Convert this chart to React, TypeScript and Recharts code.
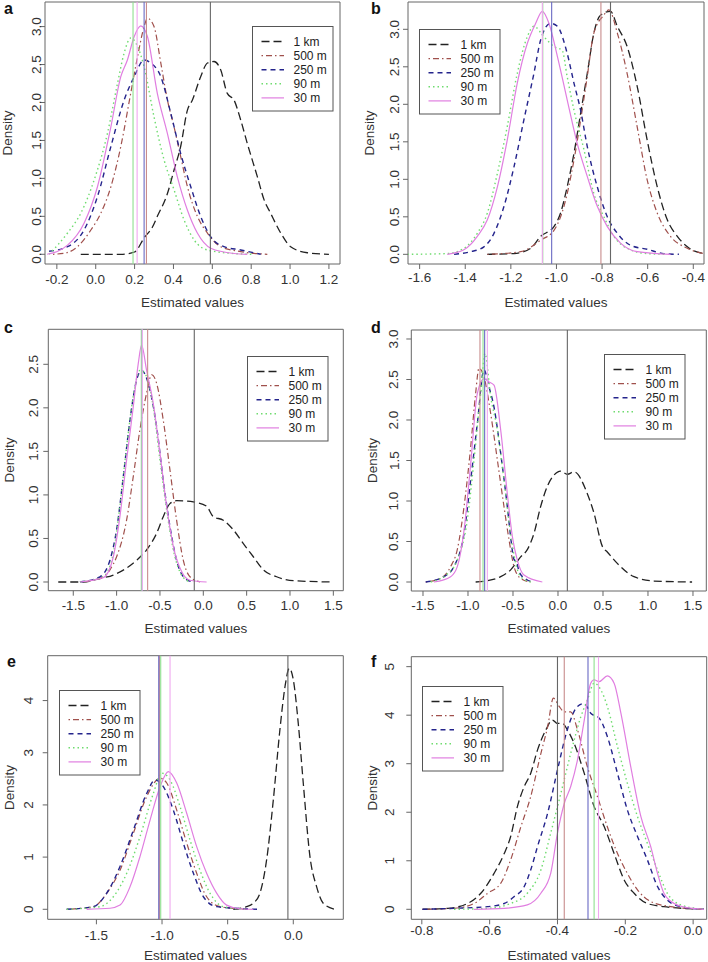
import React from 'react';
import { LineChart, Line, XAxis, YAxis, ReferenceLine, ReferenceArea, Legend } from 'recharts';

type Pt = [number, number];

const SERIES_NAMES = ['1 km', '500 m', '250 m', '90 m', '30 m'];
const SERIES_COLORS = ['#222222', '#a0504c', '#24248c', '#6fdc6f', '#e07ee0'];
const VLINE_COLORS = ['#666666', '#c88c8c', '#6a6ac4', '#8fe08f', '#f0a8f0'];
const SERIES_DASH: (string | undefined)[] = ['8 4', '1.5 3 6 3', '5 4', '1.5 3', undefined];
const SERIES_WIDTH = [1.3, 1.2, 1.4, 1.4, 1.2];
const FONT = 'Liberation Sans, Arial, Helvetica, sans-serif';
const AXIS_FONT = 13.5;

// ---------- Panel a ----------
const A_1KM: Pt[] = [[-0.077,0],[0.13,0],[0.2,0.03],[0.25,0.22],[0.292,0.36],[0.317,0.5],[0.369,0.8],[0.403,1.11],[0.437,1.42],[0.472,1.9],[0.497,2.03],[0.54,2.34],[0.575,2.52],[0.609,2.54],[0.643,2.43],[0.677,2.12],[0.712,2.03],[0.746,1.77],[0.78,1.46],[0.832,1.02],[0.866,0.72],[0.9,0.54],[0.952,0.28],[1.003,0.1],[1.089,0.02],[1.2,0]];
const A_500: Pt[] = [[-0.22,0],[-0.15,0.02],[-0.094,0.1],[-0.025,0.32],[0.026,0.54],[0.078,0.89],[0.129,1.42],[0.18,2.12],[0.215,2.6],[0.249,3.0],[0.266,3.11],[0.3,3.0],[0.335,2.52],[0.369,2.03],[0.403,1.68],[0.437,1.29],[0.472,0.89],[0.523,0.5],[0.575,0.28],[0.643,0.1],[0.746,0.035],[0.883,0]];
const A_250: Pt[] = [[-0.24,0.04],[-0.145,0.1],[-0.06,0.32],[0.009,0.76],[0.078,1.42],[0.146,2.03],[0.198,2.34],[0.249,2.56],[0.283,2.52],[0.335,2.34],[0.386,1.86],[0.437,1.33],[0.489,0.89],[0.54,0.5],[0.592,0.23],[0.66,0.1],[0.746,0.057],[0.849,0]];
const A_90: Pt[] = [[-0.24,0],[-0.145,0.28],[-0.077,0.54],[-0.008,0.98],[0.06,1.59],[0.112,2.25],[0.146,2.65],[0.18,2.85],[0.215,2.74],[0.249,2.47],[0.3,1.81],[0.352,1.24],[0.403,0.85],[0.455,0.45],[0.506,0.19],[0.575,0.057],[0.712,0.01],[0.815,0]];
const A_30: Pt[] = [[-0.25,0],[-0.145,0.12],[-0.06,0.41],[0.009,0.89],[0.078,1.68],[0.129,2.34],[0.163,2.56],[0.198,2.87],[0.232,3.01],[0.266,2.87],[0.317,2.12],[0.369,1.59],[0.42,1.02],[0.472,0.58],[0.523,0.28],[0.592,0.08],[0.712,0.01],[0.78,0]];
const A_VLINES = [0.59, 0.261, 0.249, 0.192, 0.213];
const A_XTICKS = [-0.2, 0, 0.2, 0.4, 0.6, 0.8, 1.0, 1.2];
const A_YTICKS = [0, 0.5, 1, 1.5, 2, 2.5, 3];

// ---------- Panel b ----------
const B_1KM: Pt[] = [[-1.303,0],[-1.186,0.01],[-1.113,0.08],[-1.069,0.24],[-1.011,0.37],[-0.982,0.55],[-0.953,0.9],[-0.923,1.35],[-0.894,1.88],[-0.865,2.41],[-0.836,2.95],[-0.806,3.19],[-0.763,3.24],[-0.733,3.04],[-0.69,2.77],[-0.646,2.24],[-0.602,1.52],[-0.558,0.9],[-0.514,0.46],[-0.47,0.24],[-0.426,0.1],[-0.353,0.01]];
const B_500: Pt[] = [[-1.303,0],[-1.157,0.035],[-1.069,0.19],[-1.011,0.32],[-0.967,0.64],[-0.923,1.26],[-0.894,1.79],[-0.865,2.37],[-0.836,2.95],[-0.792,3.19],[-0.77,3.26],[-0.733,2.95],[-0.69,2.41],[-0.646,1.7],[-0.602,0.99],[-0.558,0.55],[-0.5,0.24],[-0.426,0.08],[-0.353,0.01]];
const B_250: Pt[] = [[-1.449,0],[-1.376,0.035],[-1.318,0.1],[-1.274,0.28],[-1.23,0.64],[-1.186,1.17],[-1.143,1.79],[-1.099,2.41],[-1.069,2.86],[-1.026,3.08],[-0.996,3.04],[-0.953,2.68],[-0.923,2.28],[-0.894,1.92],[-0.865,1.44],[-0.821,0.9],[-0.777,0.5],[-0.733,0.28],[-0.675,0.12],[-0.602,0.067],[-0.529,0.01],[-0.463,0]];
const B_90: Pt[] = [[-1.654,0],[-1.479,0.01],[-1.406,0.08],[-1.347,0.28],[-1.303,0.55],[-1.259,1.08],[-1.216,1.7],[-1.172,2.41],[-1.128,2.9],[-1.099,3.04],[-1.055,2.9],[-1.011,2.77],[-0.975,2.72],[-0.953,2.37],[-0.923,1.92],[-0.879,1.39],[-0.836,0.81],[-0.792,0.5],[-0.748,0.24],[-0.69,0.08],[-0.602,0.01],[-0.514,0]];
const B_30: Pt[] = [[-1.479,0],[-1.406,0.06],[-1.347,0.24],[-1.303,0.46],[-1.259,0.9],[-1.216,1.52],[-1.172,2.28],[-1.128,2.81],[-1.091,3.08],[-1.062,3.24],[-1.033,3.08],[-0.996,2.64],[-0.953,2.06],[-0.909,1.48],[-0.865,1.04],[-0.821,0.64],[-0.777,0.37],[-0.719,0.15],[-0.646,0.035],[-0.5,0]];
const B_VLINES = [-0.763, -0.805, -1.021, -1.06, -1.062];
const B_XTICKS = [-1.6, -1.4, -1.2, -1.0, -0.8, -0.6, -0.4];
const B_YTICKS = [0, 0.5, 1, 1.5, 2, 2.5, 3];

// ---------- Panel c ----------
const C_1KM: Pt[] = [[-1.673,0],[-1.385,0],[-1.192,0.04],[-1.038,0.08],[-0.885,0.16],[-0.769,0.25],[-0.654,0.37],[-0.538,0.56],[-0.462,0.75],[-0.385,0.9],[-0.308,0.934],[-0.2,0.93],[-0.115,0.92],[0.038,0.87],[0.115,0.75],[0.231,0.71],[0.346,0.6],[0.462,0.44],[0.577,0.29],[0.692,0.14],[0.846,0.06],[1.038,0.015],[1.5,0]];
const C_500: Pt[] = [[-1.423,0],[-1.192,0.04],[-1.077,0.14],[-1.0,0.29],[-0.885,0.71],[-0.808,1.21],[-0.731,1.75],[-0.654,2.17],[-0.596,2.38],[-0.538,2.28],[-0.462,1.86],[-0.385,1.29],[-0.308,0.71],[-0.231,0.25],[-0.154,0.06],[-0.038,0]];
const C_250: Pt[] = [[-1.423,0],[-1.192,0.06],[-1.077,0.25],[-1.0,0.6],[-0.923,1.21],[-0.846,1.86],[-0.769,2.32],[-0.712,2.43],[-0.635,2.28],[-0.538,1.78],[-0.462,1.17],[-0.385,0.64],[-0.308,0.25],[-0.212,0.04],[-0.115,0]];
const C_90: Pt[] = [[-1.423,0],[-1.154,0.06],[-1.038,0.33],[-0.962,0.87],[-0.885,1.55],[-0.808,2.13],[-0.731,2.43],[-0.654,2.36],[-0.577,2.01],[-0.5,1.4],[-0.423,0.83],[-0.346,0.37],[-0.25,0.08],[-0.154,0]];
const C_30: Pt[] = [[-1.423,0],[-1.154,0.05],[-1.038,0.29],[-0.962,0.75],[-0.885,1.4],[-0.808,2.01],[-0.75,2.51],[-0.712,2.72],[-0.654,2.43],[-0.577,2.05],[-0.5,1.48],[-0.423,0.87],[-0.346,0.41],[-0.25,0.12],[-0.154,0.02],[0.038,0]];
const C_VLINES = [-0.104, -0.642, -0.71, -0.715, -0.704];
const C_XTICKS = [-1.5, -1.0, -0.5, 0, 0.5, 1.0, 1.5];
const C_YTICKS = [0, 0.5, 1, 1.5, 2, 2.5];

// ---------- Panel d ----------
const D_1KM: Pt[] = [[-0.915,0],[-0.785,0.016],[-0.637,0.066],[-0.526,0.15],[-0.415,0.31],[-0.341,0.4],[-0.267,0.6],[-0.193,0.93],[-0.119,1.18],[-0.044,1.32],[0.03,1.37],[0.104,1.33],[0.178,1.36],[0.326,1.09],[0.4,0.85],[0.493,0.44],[0.548,0.37],[0.659,0.23],[0.844,0.066],[1.067,0.012],[1.49,0]];
const D_500: Pt[] = [[-1.47,0],[-1.304,0.045],[-1.193,0.19],[-1.119,0.4],[-1.044,0.93],[-0.97,1.67],[-0.915,2.33],[-0.878,2.64],[-0.822,2.53],[-0.748,2.08],[-0.674,1.51],[-0.6,0.93],[-0.544,0.52],[-0.489,0.19],[-0.415,0.045],[-0.304,0]];
const D_250: Pt[] = [[-1.47,0],[-1.267,0.066],[-1.156,0.19],[-1.044,0.6],[-0.97,1.26],[-0.896,1.96],[-0.822,2.62],[-0.767,2.41],[-0.711,2.16],[-0.637,1.59],[-0.563,0.93],[-0.52,0.5],[-0.489,0.28],[-0.46,0.25],[-0.43,0.12],[-0.341,0.025],[-0.267,0]];
const D_90: Pt[] = [[-1.415,0],[-1.23,0.1],[-1.119,0.27],[-1.007,0.77],[-0.933,1.51],[-0.859,2.33],[-0.811,2.82],[-0.748,2.29],[-0.674,1.88],[-0.6,1.26],[-0.526,0.6],[-0.47,0.23],[-0.415,0.066],[-0.304,0]];
const D_30: Pt[] = [[-1.378,0],[-1.193,0.066],[-1.119,0.19],[-1.044,0.64],[-0.97,1.46],[-0.896,2.33],[-0.822,2.51],[-0.767,2.47],[-0.711,2.43],[-0.637,1.88],[-0.563,1.09],[-0.507,0.56],[-0.452,0.27],[-0.378,0.086],[-0.174,0]];
const D_VLINES = [0.104, -0.867, -0.815, -0.833, -0.785];
const D_XTICKS = [-1.5, -1.0, -0.5, 0, 0.5, 1.0, 1.5];
const D_YTICKS = [0, 0.5, 1, 1.5, 2, 2.5, 3];

// ---------- Panel e ----------
const E_1KM: Pt[] = [[-0.457,0],[-0.355,0.05],[-0.305,0.115],[-0.254,0.31],[-0.203,0.95],[-0.152,2.1],[-0.102,3.44],[-0.063,4.27],[-0.03,4.62],[0,4.4],[0.038,3.56],[0.076,2.42],[0.127,1.01],[0.178,0.43],[0.228,0.115],[0.317,0]];
const E_500: Pt[] = [[-1.726,0],[-1.523,0.05],[-1.421,0.31],[-1.32,0.75],[-1.218,1.46],[-1.117,2.16],[-1.015,2.51],[-0.964,2.42],[-0.888,1.9],[-0.812,1.27],[-0.736,0.69],[-0.66,0.24],[-0.558,0.05],[-0.355,0]];
const E_250: Pt[] = [[-1.726,0],[-1.523,0.05],[-1.421,0.31],[-1.32,0.82],[-1.218,1.52],[-1.117,2.22],[-1.053,2.48],[-0.99,2.35],[-0.914,1.9],[-0.838,1.27],[-0.761,0.69],[-0.685,0.24],[-0.584,0.05],[-0.27,0]];
const E_90: Pt[] = [[-1.726,0],[-1.472,0.05],[-1.371,0.24],[-1.269,0.69],[-1.168,1.39],[-1.066,2.22],[-1.003,2.61],[-0.939,2.48],[-0.863,1.97],[-0.787,1.33],[-0.711,0.75],[-0.635,0.31],[-0.533,0.05],[-0.355,0]];
const E_30: Pt[] = [[-1.574,0],[-1.396,0.02],[-1.32,0.08],[-1.244,0.43],[-1.168,1.01],[-1.091,1.71],[-1.015,2.35],[-0.952,2.64],[-0.888,2.42],[-0.812,1.84],[-0.736,1.2],[-0.66,0.69],[-0.584,0.31],[-0.508,0.08],[-0.406,0.01],[-0.305,0]];
const E_VLINES = [-0.041, -1.02, -1.025, -1.01, -0.939];
const E_XTICKS = [-1.5, -1.0, -0.5, 0];
const E_YTICKS = [0, 1, 2, 3, 4];

// ---------- Panel f ----------
const F_1KM: Pt[] = [[-0.798,0],[-0.724,0.02],[-0.665,0.12],[-0.626,0.33],[-0.587,0.74],[-0.557,1.15],[-0.538,1.5],[-0.518,2.12],[-0.498,2.53],[-0.479,2.8],[-0.459,3.28],[-0.434,3.7],[-0.415,3.9],[-0.4,3.83],[-0.385,3.83],[-0.371,3.7],[-0.351,3.42],[-0.321,2.8],[-0.292,2.12],[-0.262,1.7],[-0.233,1.15],[-0.203,0.6],[-0.174,0.33],[-0.135,0.12],[-0.086,0.055],[-0.017,0.014],[0.032,0]];
const F_500: Pt[] = [[-0.798,0],[-0.705,0.02],[-0.646,0.12],[-0.606,0.33],[-0.567,0.54],[-0.538,1.02],[-0.508,1.7],[-0.479,2.32],[-0.449,3.21],[-0.429,3.76],[-0.412,4.35],[-0.395,4.18],[-0.38,4.07],[-0.361,4.07],[-0.341,3.7],[-0.312,2.94],[-0.282,2.32],[-0.253,1.7],[-0.223,1.15],[-0.194,0.74],[-0.164,0.4],[-0.125,0.16],[-0.066,0.055],[0.032,0]];
const F_250: Pt[] = [[-0.798,0],[-0.705,0.02],[-0.606,0.055],[-0.557,0.12],[-0.528,0.26],[-0.498,0.47],[-0.479,0.81],[-0.459,1.29],[-0.429,1.98],[-0.4,2.87],[-0.371,3.7],[-0.341,4.18],[-0.321,4.24],[-0.302,4.04],[-0.277,3.94],[-0.253,3.56],[-0.223,2.8],[-0.194,2.05],[-0.164,1.5],[-0.135,1.02],[-0.105,0.47],[-0.076,0.19],[-0.036,0.055],[0.032,0]];
const F_90: Pt[] = [[-0.705,0],[-0.606,0.02],[-0.538,0.12],[-0.489,0.33],[-0.449,0.81],[-0.42,1.57],[-0.39,2.39],[-0.361,3.21],[-0.331,3.97],[-0.312,4.31],[-0.292,4.66],[-0.272,4.52],[-0.253,4.18],[-0.223,3.35],[-0.194,2.6],[-0.164,1.91],[-0.135,1.36],[-0.105,0.81],[-0.076,0.33],[-0.036,0.09],[0.032,0]];
const F_30: Pt[] = [[-0.646,0],[-0.557,0.02],[-0.489,0.09],[-0.449,0.33],[-0.42,0.74],[-0.4,1.57],[-0.38,2.18],[-0.361,2.53],[-0.341,3.08],[-0.321,3.9],[-0.302,4.66],[-0.292,4.73],[-0.277,4.69],[-0.253,4.81],[-0.233,4.66],[-0.213,4.04],[-0.184,2.94],[-0.154,1.91],[-0.125,1.29],[-0.105,0.74],[-0.086,0.33],[-0.056,0.12],[-0.017,0.034],[0.032,0]];
const F_VLINES = [-0.4, -0.38, -0.31, -0.292, -0.279];
const F_XTICKS = [-0.8, -0.6, -0.4, -0.2, 0];
const F_YTICKS = [0, 1, 2, 3, 4, 5];

type PanelCfg = {
  letter: string; left: number; top: number; w: number; h: number;
  box: { l: number; r: number; t: number; b: number };
  xDomain: [number, number]; yDomain: [number, number];
  xTicks: number[]; yTicks: number[]; yDigits: number;
  xLabelY: number; yLabelX: number; densityX: number; titleY: number;
  legend: { x: number; y: number }; letterPos: { x: number; y: number };
  series: Pt[][]; vlines: number[];
};

const PANELS: PanelCfg[] = [
  { letter: 'a', left: 0, top: 0, w: 354, h: 320, box: { l: 45, r: 340, t: 2, b: 264 },
    xDomain: [-0.261, 1.257], yDomain: [-0.128, 3.324], xTicks: A_XTICKS, yTicks: A_YTICKS, yDigits: 1,
    xLabelY: 279, yLabelX: 37, densityX: 7, titleY: 302, legend: { x: 252, y: 26 }, letterPos: { x: 4, y: 13.5 },
    series: [A_1KM, A_500, A_250, A_90, A_30], vlines: A_VLINES },
  { letter: 'b', left: 354, top: 0, w: 354, h: 320, box: { l: 54, r: 350, t: 2, b: 264 },
    xDomain: [-1.651, -0.353], yDomain: [-0.129, 3.364], xTicks: B_XTICKS, yTicks: B_YTICKS, yDigits: 1,
    xLabelY: 277, yLabelX: 40.7, densityX: 15.5, titleY: 302, legend: { x: 65, y: 29 }, letterPos: { x: 17, y: 13.5 },
    series: [B_1KM, B_500, B_250, B_90, B_30], vlines: B_VLINES },
  { letter: 'c', left: 0, top: 320, w: 354, h: 320, box: { l: 48.3, r: 343.3, t: 9.3, b: 270.7 },
    xDomain: [-1.788, 1.615], yDomain: [-0.1, 2.902], xTicks: C_XTICKS, yTicks: C_YTICKS, yDigits: 1,
    xLabelY: 285, yLabelX: 34, densityX: 9, titleY: 308, legend: { x: 247, y: 36 }, letterPos: { x: 4, y: 12.5 },
    series: [C_1KM, C_500, C_250, C_90, C_30], vlines: C_VLINES },
  { letter: 'd', left: 354, top: 320, w: 354, h: 320, box: { l: 57.3, r: 352.3, t: 10, b: 271 },
    xDomain: [-1.63, 1.648], yDomain: [-0.111, 3.111], xTicks: D_XTICKS, yTicks: D_YTICKS, yDigits: 1,
    xLabelY: 285, yLabelX: 40, densityX: 18.7, titleY: 308, legend: { x: 250, y: 34 }, letterPos: { x: 17, y: 12.5 },
    series: [D_1KM, D_500, D_250, D_90, D_30], vlines: D_VLINES },
  { letter: 'e', left: 0, top: 640, w: 354, h: 322, box: { l: 47.7, r: 343.3, t: 15.7, b: 279.3 },
    xDomain: [-1.871, 0.381], yDomain: [-0.192, 4.86], xTicks: E_XTICKS, yTicks: E_YTICKS, yDigits: 0,
    xLabelY: 295, yLabelX: 28.3, densityX: 9, titleY: 315, legend: { x: 59, y: 50 }, letterPos: { x: 7, y: 26.7 },
    series: [E_1KM, E_500, E_250, E_90, E_30], vlines: E_VLINES },
  { letter: 'f', left: 354, top: 640, w: 354, h: 322, box: { l: 57.3, r: 352.7, t: 16.7, b: 279.3 },
    xDomain: [-0.831, 0.04], yDomain: [-0.206, 5.205], xTicks: F_XTICKS, yTicks: F_YTICKS, yDigits: 0,
    xLabelY: 290, yLabelX: 35.7, densityX: 18.7, titleY: 315, legend: { x: 67.7, y: 45.7 }, letterPos: { x: 17, y: 26.7 },
    series: [F_1KM, F_500, F_250, F_90, F_30], vlines: F_VLINES },
];

const LegendBox = () => (
  <svg width={82} height={86} style={{ display: 'block' }}>
    <rect x={0.5} y={0.5} width={80.5} height={84.5} fill="#ffffff" stroke="#555555" strokeWidth={1} />
    {SERIES_NAMES.map((n, i) => {
      const y = 15.5 + 14.1 * i;
      return (
        <g key={n}>
          <line x1={9.5} x2={32} y1={y} y2={y} stroke={SERIES_COLORS[i]} strokeWidth={SERIES_WIDTH[i]}
            strokeDasharray={SERIES_DASH[i]} />
          <text x={41.5} y={y} dominantBaseline="central" fontSize={12} fill="#222" fontFamily={FONT}>{n}</text>
        </g>
      );
    })}
  </svg>
);

function Panel({ cfg }: { cfg: PanelCfg }) {
  const { box } = cfg;
  const fmtX = (v: number) => v.toFixed(1);
  const fmtY = (v: number) => v.toFixed(cfg.yDigits);
  return (
    <div style={{ position: 'absolute', left: cfg.left, top: cfg.top, width: cfg.w, height: cfg.h }}>
      <LineChart width={cfg.w} height={cfg.h} margin={{ top: box.t, right: cfg.w - box.r, left: 0, bottom: 0 }}>
        <XAxis type="number" dataKey="x" domain={cfg.xDomain} ticks={cfg.xTicks} allowDataOverflow interval={0}
          axisLine={false} tickLine={{ stroke: '#666666' }} tickSize={5} height={cfg.h - box.b}
          tick={(p: any) => (
            <text x={p.x} y={cfg.xLabelY} textAnchor="middle" dominantBaseline="central" fontSize={AXIS_FONT}
              fill="#333" fontFamily={FONT}>{fmtX(p.payload.value)}</text>
          )}
          label={() => (
            <text x={(box.l + box.r) / 2} y={cfg.titleY} textAnchor="middle" dominantBaseline="central"
              fontSize={AXIS_FONT} fill="#333" fontFamily={FONT}>Estimated values</text>
          )}
        />
        <YAxis type="number" domain={cfg.yDomain} ticks={cfg.yTicks} allowDataOverflow interval={0}
          width={box.l} axisLine={false} tickLine={{ stroke: '#666666' }} tickSize={5}
          tick={(p: any) => (
            <text x={cfg.yLabelX} y={p.y} transform={`rotate(-90 ${cfg.yLabelX} ${p.y})`} textAnchor="middle"
              dominantBaseline="central" fontSize={AXIS_FONT} fill="#333" fontFamily={FONT}>{fmtY(p.payload.value)}</text>
          )}
          label={() => (
            <text x={cfg.densityX} y={(box.t + box.b) / 2}
              transform={`rotate(-90 ${cfg.densityX} ${(box.t + box.b) / 2})`} textAnchor="middle"
              dominantBaseline="central" fontSize={AXIS_FONT} fill="#333" fontFamily={FONT}>Density</text>
          )}
        />
        <ReferenceArea x1={cfg.xDomain[0]} x2={cfg.xDomain[1]} y1={cfg.yDomain[0]} y2={cfg.yDomain[1]}
          fill="none" fillOpacity={0} stroke="#666666" strokeWidth={1} />
        {cfg.series.map((pts, i) => (
          <Line key={SERIES_NAMES[i]} name={SERIES_NAMES[i]} data={pts.map(([x, y]) => ({ x, y }))} dataKey="y"
            type="monotone" dot={false} activeDot={false} isAnimationActive={false}
            stroke={SERIES_COLORS[i]} strokeWidth={SERIES_WIDTH[i]} strokeDasharray={SERIES_DASH[i]} />
        ))}
        {cfg.vlines.map((v, i) => (
          <ReferenceLine key={'v' + i} x={v} stroke={VLINE_COLORS[i]} strokeWidth={1.1} />
        ))}
        <Legend layout="vertical" align="center" verticalAlign="middle" content={() => <LegendBox />}
          wrapperStyle={{ position: 'absolute', left: cfg.legend.x, top: cfg.legend.y, width: 82, height: 86 }} />
      </LineChart>
      <svg width={30} height={30} style={{ position: 'absolute', left: 0, top: 0, overflow: 'visible', pointerEvents: 'none' }}>
        <text x={cfg.letterPos.x} y={cfg.letterPos.y} fontSize={16} fontWeight="bold" fill="#111" fontFamily={FONT}>{cfg.letter}</text>
      </svg>
    </div>
  );
}

export default function App() {
  return (
    <div style={{ position: 'absolute', left: 0, top: 0, width: 708, height: 962, background: '#ffffff' }}>
      {PANELS.map((p) => <Panel key={p.letter} cfg={p} />)}
    </div>
  );
}
